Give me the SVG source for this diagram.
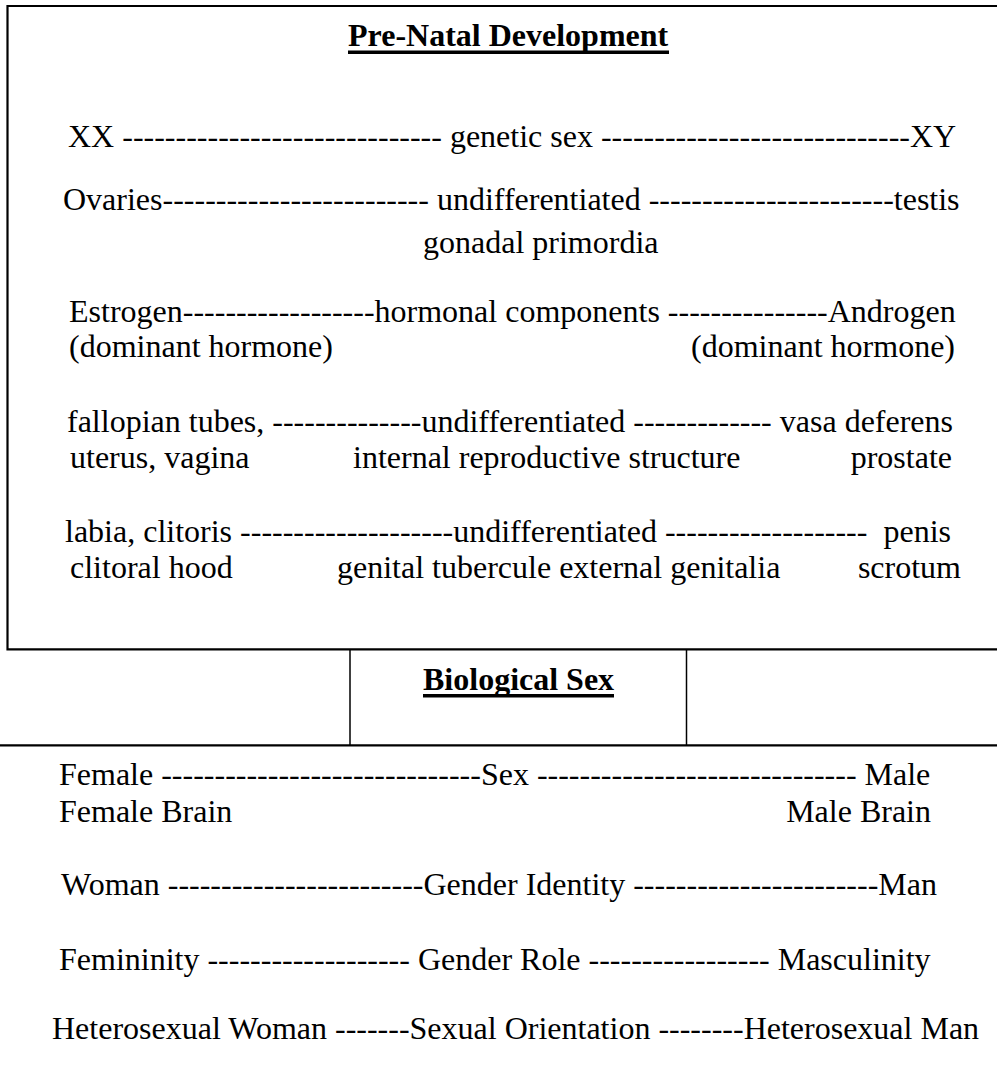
<svg xmlns="http://www.w3.org/2000/svg" width="997" height="1090" viewBox="0 0 997 1090">
<style>
  text { font-family: "Liberation Serif", "Times New Roman", serif; font-size: 32px; fill: #000; white-space: pre; }
  .title { font-weight: bold; }
  .end { text-anchor: end; }
  .rule { stroke: #000; fill: none; }
  .thick { stroke-width: 2.2; }
  .thin { stroke-width: 1.5; }
</style>
<rect x="0" y="0" width="997" height="1090" fill="#fff"/>

<g id="frames">
  <path class="rule thick" d="M 1000 6 H 7.5 V 649.3 H 1000"/>
  <line class="rule thin" x1="350" y1="649" x2="350" y2="745"/>
  <line class="rule thin" x1="686.5" y1="649" x2="686.5" y2="745"/>
  <line class="rule thick" x1="0" y1="745.3" x2="1000" y2="745.3"/>
</g>

<g id="prenatal-title">
  <text class="title" x="348" y="46">Pre-Natal Development</text>
  <rect x="348" y="50.5" width="321" height="3.5" fill="#000"/>
</g>

<g id="genetic-sex">
  <text x="68" y="147">XX ------------------------------ genetic sex -----------------------------XY</text>
</g>

<g id="gonadal">
  <text x="63" y="210">Ovaries------------------------- undifferentiated -----------------------testis</text>
  <text x="423" y="253">gonadal primordia</text>
</g>

<g id="hormonal">
  <text x="69" y="322">Estrogen------------------hormonal components ---------------Androgen</text>
  <text x="69" y="357">(dominant hormone)</text>
  <text class="end" x="955" y="357">(dominant hormone)</text>
</g>

<g id="internal">
  <text x="67" y="432">fallopian tubes, --------------undifferentiated ------------- vasa deferens</text>
  <text x="70" y="468">uterus, vagina</text>
  <text x="353" y="468">internal reproductive structure</text>
  <text class="end" x="952" y="468">prostate</text>
</g>

<g id="external">
  <text x="65" y="542">labia, clitoris --------------------undifferentiated -------------------  penis</text>
  <text x="70" y="578">clitoral hood</text>
  <text x="337" y="578">genital tubercule external genitalia</text>
  <text class="end" x="961" y="578">scrotum</text>
</g>

<g id="biological-sex-title">
  <text class="title" x="423" y="689.5">Biological Sex</text>
  <rect x="423" y="694" width="191" height="3.5" fill="#000"/>
</g>

<g id="sex">
  <text x="59" y="785">Female ------------------------------Sex ------------------------------ Male</text>
  <text x="59" y="822">Female Brain</text>
  <text class="end" x="931" y="822">Male Brain</text>
</g>

<g id="gender-identity">
  <text x="61" y="895">Woman ------------------------Gender Identity -----------------------Man</text>
</g>

<g id="gender-role">
  <text x="59" y="970">Femininity ------------------- Gender Role ----------------- Masculinity</text>
</g>

<g id="sexual-orientation">
  <text x="52" y="1039">Heterosexual Woman -------Sexual Orientation --------Heterosexual Man</text>
</g>
</svg>
